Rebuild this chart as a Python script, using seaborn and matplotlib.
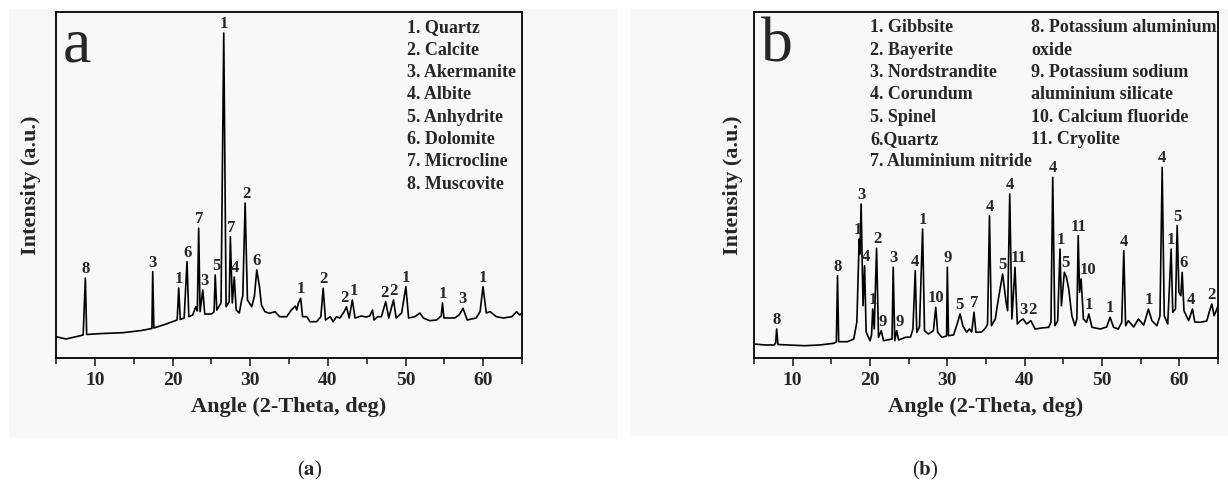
import numpy as np
import pandas as pd
import matplotlib
matplotlib.use("Agg")
import matplotlib.pyplot as plt
from matplotlib.patches import Rectangle
import seaborn as sns

# ---------------- data: panel a (trace) ----------------
a_angle = [5.0, 6.3, 8.5, 8.78, 8.95, 11.0, 13.6, 16.0, 17.35, 17.45, 17.6, 19.0, 20.0, 20.6, 20.8,
           21.0, 21.5, 21.87, 22.1, 22.6, 23.0, 23.2, 23.37, 23.55, 23.9, 24.15, 25.0, 25.35, 25.5,
           25.7, 26.25, 26.6, 26.9, 27.3, 27.45, 27.7, 27.95, 28.2, 28.6, 28.9, 29.05, 29.35, 29.65,
           30.2, 30.55, 30.85, 31.2, 31.45, 31.9, 32.5, 33.2, 33.8, 34.7, 35.3, 35.8, 36.0, 36.2,
           36.5, 36.75, 37.3, 37.7, 38.55, 39.1, 39.4, 39.7, 40.3, 40.7, 41.1, 41.55, 42.1, 42.4,
           42.75, 43.15, 43.5, 44.3, 44.95, 45.4, 45.75, 45.95, 46.4, 46.9, 47.45, 47.85, 48.45,
           48.8, 49.5, 50.05, 50.4, 51.2, 51.85, 52.3, 53.1, 54.0, 54.6, 54.76, 54.95, 56.35, 56.9,
           57.4, 57.95, 59.1, 59.6, 59.98, 60.4, 60.9, 61.7, 62.6, 63.7, 64.3, 64.7, 65.0]
a_pix = [336.7, 339, 335, 278, 334.5, 333.5, 332.7, 330.5, 328.5, 271.7, 328, 324.5, 321.7, 320, 288,
         319.5, 318, 261.7, 316.7, 315, 306.7, 311, 228.3, 311.7, 290, 314, 314, 312, 275,
         310, 303, 33, 306.7, 301.7, 236.7, 303, 277, 310, 313, 300, 296, 203, 300,
         306.7, 296, 270, 286.7, 305, 311.7, 313.3, 311.7, 316.7, 316.7, 310, 306, 310, 303.3,
         298.3, 316.7, 316.7, 321.7, 321.7, 316.7, 288.3, 320, 316.7, 321.7, 316.7, 318, 311.7, 306.7,
         318, 300, 318, 316, 317, 316, 310, 320, 316.7, 316.7, 301.7, 318, 300,
         318, 313, 286.7, 318, 316.7, 313, 318, 320.7, 320, 316, 303, 318, 318, 315,
         308.3, 320, 318, 311.7, 286.7, 313, 311.7, 316.7, 318, 316.7, 311.7, 315, 313]
a_intensity = [358 - p for p in a_pix]

a_lab_angle = [8.78, 17.45, 20.8, 22.0, 23.45, 24.1, 25.6, 26.6, 27.6, 28.03, 29.5, 30.8,
               36.5, 39.4, 42.2, 43.3, 47.35, 48.4, 50.05, 54.76, 57.4, 59.98]
a_lab_height = [278, 272, 288, 262, 228, 290, 275, 33, 237, 277, 203, 270,
                298, 288, 307, 300, 302, 300, 287, 303, 308, 287]
a_lab_text = ["8", "3", "1", "6", "7", "3", "5", "1", "7", "4", "2", "6",
              "1", "2", "2", "1", "2", "2", "1", "1", "3", "1"]
a_phases = ["1. Quartz", "2. Calcite", "3. Akermanite", "4. Albite",
            "5. Anhydrite", "6. Dolomite", "7. Microcline", "8. Muscovite"]

# ---------------- data: panel b ----------------
b_angle = [5.0, 6.5, 7.6, 7.8, 7.93, 8.1, 9.5, 11.5, 13.5, 15.3, 15.65, 15.8, 15.95, 17.1, 17.9,
           18.3, 18.6, 18.7, 18.85, 19.1, 19.3, 19.5, 20.0, 20.2, 20.35, 20.55, 20.85, 21.1, 21.45,
           21.75, 22.4, 22.85, 23.0, 23.2, 23.45, 23.7, 24.6, 25.25, 25.55, 25.85, 26.05, 26.4,
           26.8, 27.05, 27.55, 28.2, 28.5, 28.75, 29.3, 29.9, 30.0, 30.15, 30.8, 31.2, 31.65, 32.0,
           32.5, 32.85, 33.15, 33.45, 33.7, 34.45, 35.0, 35.2, 35.45, 35.7, 36.2, 36.6, 37.15, 37.6,
           37.8, 38.07, 38.35, 38.75, 39.05, 39.4, 39.8, 40.26, 40.8, 41.35, 42.2, 43.1, 43.4, 43.63,
           43.9, 44.27, 44.57, 44.75, 45.13, 45.4, 45.7, 46.1, 46.5, 46.75, 46.92, 47.1, 47.3, 47.6,
           48.0, 48.3, 48.7, 49.8, 50.6, 51.05, 51.5, 52.1, 52.55, 52.82, 53.05, 53.4, 54.1, 54.7,
           55.4, 56.0, 56.45, 57.1, 57.5, 57.78, 58.05, 58.5, 58.94, 59.15, 59.5, 59.72, 59.95, 60.2,
           60.37, 60.6, 61.2, 61.7, 62.0, 62.7, 63.55, 63.85, 64.2, 64.5, 64.85, 65.0]
b_pix = [345, 346, 346, 344, 330, 345.5, 346, 346.7, 346, 344.3, 343, 276.7, 342.7, 342.7, 340,
         323, 240, 255, 205, 306.7, 266.7, 333, 341.7, 336, 310, 330, 249.3, 338.3, 331.7,
         341.7, 340.7, 340, 268.3, 341.7, 331.7, 341, 338.3, 338, 330, 271.7, 333.3, 328,
         230, 331.7, 335, 331.7, 308.3, 333.3, 338.3, 337, 268.3, 336.7, 336, 326.7, 315, 326.7,
         333.3, 330, 333, 313.3, 333.3, 333, 328.3, 325, 216.7, 326.7, 320, 300, 275, 303.3,
         311.7, 195, 320, 268.3, 325, 322, 320, 325, 321.7, 330, 329, 328.3, 323.3, 178.3,
         326.7, 322, 250, 306.7, 273.3, 278, 290, 316.7, 326.7, 320, 236.7, 293.3, 280, 320,
         323.3, 315, 328.3, 330, 328, 318.3, 328.3, 330, 323.3, 251.7, 326.7, 321.7, 328, 320,
         326, 310, 321.7, 326.7, 316.7, 168.3, 316.7, 325, 250, 313.3, 310, 226.7, 293.3, 296.7,
         273.3, 311.7, 321.7, 310, 323, 323.3, 322, 313.3, 305, 316.7, 310, 306.7]
b_intensity = [359 - p for p in b_pix]

b_lab_angle = [7.93, 15.8, 18.45, 18.85, 19.5, 20.35, 20.95, 21.65, 23.0, 23.8, 25.75, 26.8,
               28.5, 30.0, 31.55, 33.45, 35.45, 37.15, 38.07, 39.2, 39.9, 41.0, 43.63, 44.65,
               45.3, 46.95, 48.2, 48.3, 50.97, 52.82, 56.0, 57.78, 58.94, 59.8, 60.6, 61.5, 64.1]
b_lab_height = [330, 277, 240, 205, 267, 310, 249, 332, 268, 332, 272, 230,
                308, 268, 315, 313, 217, 275, 195, 268, 320, 320, 178, 250,
                273, 237, 280, 315, 318, 252, 310, 168, 250, 227, 273, 310, 305]
b_lab_text = ["8", "8", "1", "3", "4", "1", "2", "9", "3", "9", "4", "1",
              "10", "9", "5", "7", "4", "5", "4", "11", "3", "2", "4", "1",
              "5", "11", "10", "1", "1", "4", "1", "4", "1", "5", "6", "4", "2"]
b_phases_col1 = ["1. Gibbsite", "2. Bayerite", "3. Nordstrandite", "4. Corundum",
                 "5. Spinel", "6.Quartz", "7. Aluminium nitride"]
b_phases_col2 = ["8. Potassium aluminium", "oxide", "9. Potassium sodium",
                 "aluminium silicate", "10. Calcium fluoride", "11. Cryolite"]

x_ticks = [10, 20, 30, 40, 50, 60]

# ---------------- style ----------------
sns.set_style("ticks")
plt.rcParams["font.family"] = ["Liberation Serif", "DejaVu Serif"]
plt.rcParams["mathtext.fontset"] = "stix"

W, H = 1228, 488
fig = plt.figure(figsize=(W / 100, H / 100), dpi=100, facecolor="white")
PANEL_BG = "#f8f8f8"
bg_ax = fig.add_axes([0, 0, 1, 1], zorder=-10)
bg_ax.set_xlim(0, W)
bg_ax.set_ylim(H, 0)
bg_ax.axis("off")
bg_ax.add_patch(Rectangle((9, 9), 617 - 9, 438 - 9, facecolor=PANEL_BG, edgecolor="none"))
bg_ax.add_patch(Rectangle((631, 9), 1228 - 631, 436 - 9, facecolor=PANEL_BG, edgecolor="none"))

ax_top, ax_bot = 12, 358
axa = fig.add_axes([56 / W, 1 - ax_bot / H, (522 - 56) / W, (ax_bot - ax_top) / H])
axb = fig.add_axes([754 / W, 1 - ax_bot / H, (1218 - 754) / W, (ax_bot - ax_top) / H])

da = pd.DataFrame({"angle": a_angle, "intensity": a_intensity})
db = pd.DataFrame({"angle": b_angle, "intensity": b_intensity})

for ax, df, letter in [(axa, da, "a"), (axb, db, "b")]:
    sns.lineplot(data=df, x="angle", y="intensity", ax=ax, color="black", linewidth=1.2,
                 estimator=None, sort=False)
    ax.set_facecolor(PANEL_BG)
    ax.set_xlim(5, 65)
    ax.set_ylim(0, 346)
    ax.set_yticks([])
    ax.set_xticks(x_ticks)
    ax.set_xticks([5, 15, 25, 35, 45, 55, 65], minor=True)
    ax.tick_params(axis="x", which="major", direction="out", length=6, width=1.2,
                   labelsize=14, pad=4)
    ax.tick_params(axis="x", which="minor", direction="out", length=4, width=1.2)
    for lbl in ax.get_xticklabels():
        lbl.set_fontweight("bold")
    for s in ax.spines.values():
        s.set_linewidth(1.3)
        s.set_color("black")
    ax.set_xlabel("Angle (2-Theta, deg)", fontsize=16, fontweight="bold", labelpad=6)
    ax.set_ylabel("Intensity (a.u.)", fontsize=16, fontweight="bold")
    ax.text(0.015, 0.985, letter, transform=ax.transAxes, fontsize=46, va="top", ha="left")

axa.yaxis.set_label_coords(-0.032, 0.5)
axb.yaxis.set_label_coords(-0.024, 0.5)

def label_peaks(ax, angles, heights, texts, offset):
    for x, h, t in zip(angles, heights, texts):
        ax.annotate(t, xy=(x, offset - h), xytext=(0, 1), textcoords="offset points",
                    ha="center", va="bottom", fontsize=12, fontweight="bold")

label_peaks(axa, a_lab_angle, a_lab_height, a_lab_text, 358)
label_peaks(axb, b_lab_angle, b_lab_height, b_lab_text, 359)

step = 22.3 / 346
for i, t in enumerate(a_phases):
    axa.text((407 - 56) / 466, 1 - (28 - 12) / 346 - i * step, t, transform=axa.transAxes,
             fontsize=13, fontweight="bold", va="center", ha="left")
for i, t in enumerate(b_phases_col1):
    axb.text((870 - 754) / 464, 1 - (28 - 12) / 346 - i * step, t, transform=axb.transAxes,
             fontsize=13, fontweight="bold", va="center", ha="left")
for i, t in enumerate(b_phases_col2):
    axb.text((1031 - 754) / 464, 1 - (28 - 12) / 346 - i * step, t, transform=axb.transAxes,
             fontsize=13, fontweight="bold", va="center", ha="left")

fig.text(310 / W, 1 - 470 / H, r"($\mathbf{a}$)", fontsize=15, ha="center", va="center")
fig.text(925 / W, 1 - 470 / H, r"($\mathbf{b}$)", fontsize=15, ha="center", va="center")

fig.savefig("out.png", dpi=100, facecolor="white")
